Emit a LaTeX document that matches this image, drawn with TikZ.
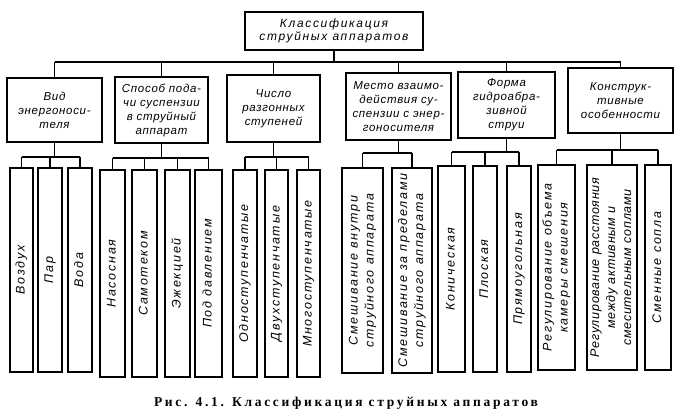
\documentclass[tikz,border=0pt]{standalone}
\usepackage{fontspec}
\setmainfont{Liberation Sans}
\newfontfamily\topfont[LetterSpace=14]{Liberation Sans}
\newfontfamily\onefont[LetterSpace=6]{Liberation Sans}
\newfontfamily\leaffont[LetterSpace=14]{Liberation Sans}
\newfontfamily\capfont[LetterSpace=20]{Liberation Serif}
\newcommand\vtext[1]{\rotatebox{90}{\begin{tabular}{@{}c@{}}#1\end{tabular}}}
\begin{document}
\begin{tikzpicture}[x=1pt,y=-1pt,
  box/.style={draw, line width=1.3pt, inner sep=0pt, align=center},
  topbox/.style={box, font=\topfont\itshape\fontsize{12}{13.5}\selectfont},
  onebox/.style={box, font=\onefont\itshape\fontsize{11.5}{14}\selectfont},
  leafbox/.style={box, font=\leaffont\itshape\fontsize{12.5}{16}\selectfont},
  conn/.style={line width=1.2pt}]
\useasboundingbox (0,0) rectangle (690,418);
% top
\node[topbox, minimum width=178, minimum height=38] (top) at (334,31) {Классификация\\струйных аппаратов};
% level one
\node[onebox, minimum width=95,  minimum height=64] (b1) at (54.5,110)   {Вид\\энергоноси-\\теля};
\node[onebox, minimum width=93,  minimum height=66] (b2) at (161.5,110)  {Способ пода-\\чи суспензии\\в струйный\\аппарат};
\node[onebox, minimum width=93,  minimum height=67] (b3) at (273.5,108.5){Число\\разгонных\\ступеней};
\node[onebox, minimum width=105, minimum height=67] (b4) at (398.5,106.5){Место взаимо-\\действия су-\\спензии с энер-\\гоносителя};
\node[onebox, minimum width=97,  minimum height=66] (b5) at (506.5,105)  {Форма\\гидроабра-\\зивной\\струи};
\node[onebox, minimum width=105, minimum height=65] (b6) at (620.5,100.5){Конструк-\\тивные\\особенности};
% leaves: group 1
\node[leafbox, minimum width=23, minimum height=204] (c1) at (21.5,270) {\vtext{Воздух}};
\node[leafbox, minimum width=24, minimum height=204] (c2) at (50,270) {\vtext{Пар}};
\node[leafbox, minimum width=24, minimum height=204] (c3) at (80,270) {\vtext{Вода}};
% group 2
\node[leafbox, minimum width=25, minimum height=207] (c4) at (112.5,273.5) {\vtext{Насосная}};
\node[leafbox, minimum width=25, minimum height=207] (c5) at (144.5,273.5) {\vtext{Самотеком}};
\node[leafbox, minimum width=25, minimum height=207] (c6) at (177.5,273.5) {\vtext{Эжекцией}};
\node[leafbox, minimum width=27, minimum height=207] (c7) at (208.5,273.5) {\vtext{Под давлением}};
% group 3
\node[leafbox, minimum width=24, minimum height=207] (c8)  at (245,273.5) {\vtext{Одноступенчатые}};
\node[leafbox, minimum width=23, minimum height=207] (c9)  at (276.5,273.5) {\vtext{Двухступенчатые}};
\node[leafbox, minimum width=23, minimum height=207] (c10) at (308.5,273.5) {\vtext{Многоступенчатые}};
% group 4
\node[leafbox, minimum width=41, minimum height=205] (c11) at (362.5,270.5) {\vtext{Смешивание внутри\\струйного аппарата}};
\node[leafbox, minimum width=40, minimum height=205] (c12) at (412,270.5) {\vtext{Смешивание за пределами\\струйного аппарата}};
% group 5
\node[leafbox, minimum width=27, minimum height=206] (c13) at (451.5,269) {\vtext{Коническая}};
\node[leafbox, minimum width=24, minimum height=206] (c14) at (485,269) {\vtext{Плоская}};
\node[leafbox, minimum width=24, minimum height=206] (c15) at (519,269) {\vtext{Прямоугольная}};
% group 6
\node[leafbox, minimum width=37, minimum height=205] (c16) at (556.5,267.5) {\vtext{Регулирование объема\\камеры смешения}};
\node[leafbox, minimum width=50, minimum height=205] (c17) at (612,267.5) {\vtext{\addfontfeatures{LetterSpace=6}Регулирование расстояния\\\addfontfeatures{LetterSpace=6}между активным и\\\addfontfeatures{LetterSpace=6}смесительным соплами}};
\node[leafbox, minimum width=26, minimum height=205] (c18) at (658,267.5) {\vtext{Сменные сопла}};
% main bus
\coordinate (mbus) at (0,62);
\draw[conn] (top.south) -- (top.south |- mbus);
\draw[conn] (b1.north |- mbus) -- (b6.north |- mbus);
\foreach \b in {b1,b2,b3,b4,b5,b6} \draw[conn] (\b.north) -- (\b.north |- mbus);
% group buses
\coordinate (g1) at (0,157);
\coordinate (g2) at (0,158);
\coordinate (g3) at (0,157);
\coordinate (g4) at (0,153);
\coordinate (g5) at (0,152);
\coordinate (g6) at (0,150);
\draw[conn] (b1.south) -- (b1.south |- g1);
\draw[conn] (c1.north |- g1) -- (c3.north |- g1);
\foreach \c in {c1,c2,c3} \draw[conn] (\c.north) -- (\c.north |- g1);
\draw[conn] (b2.south) -- (b2.south |- g2);
\draw[conn] (c4.north |- g2) -- (c7.north |- g2);
\foreach \c in {c4,c5,c6,c7} \draw[conn] (\c.north) -- (\c.north |- g2);
\draw[conn] (b3.south) -- (b3.south |- g3);
\draw[conn] (c8.north |- g3) -- (c10.north |- g3);
\foreach \c in {c8,c9,c10} \draw[conn] (\c.north) -- (\c.north |- g3);
\draw[conn] (b4.south) -- (b4.south |- g4);
\draw[conn] (c11.north |- g4) -- (c12.north |- g4);
\foreach \c in {c11,c12} \draw[conn] (\c.north) -- (\c.north |- g4);
\draw[conn] (b5.south) -- (b5.south |- g5);
\draw[conn] (c13.north |- g5) -- (c15.north |- g5);
\foreach \c in {c13,c14,c15} \draw[conn] (\c.north) -- (\c.north |- g5);
\draw[conn] (b6.south) -- (b6.south |- g6);
\draw[conn] (c16.north |- g6) -- (c18.north |- g6);
\foreach \c in {c16,c17,c18} \draw[conn] (\c.north) -- (\c.north |- g6);
% caption
\node[font=\capfont\bfseries\fontsize{13.5}{15}\selectfont, inner sep=0pt] (cap) at (346,403) {Рис. 4.1. Классификация струйных аппаратов};
\end{tikzpicture}
\end{document}
